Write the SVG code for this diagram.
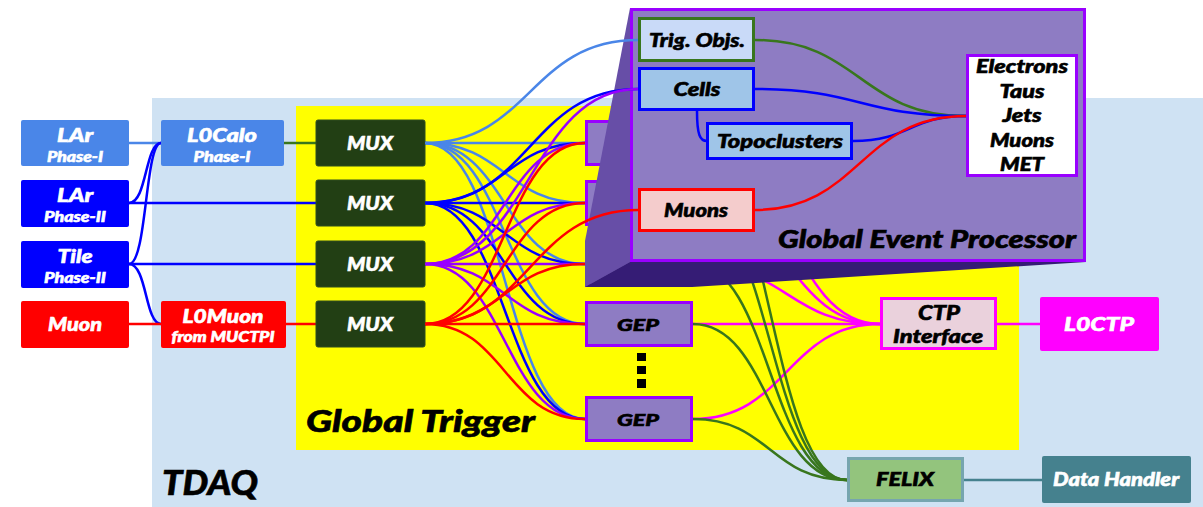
<svg xmlns="http://www.w3.org/2000/svg" width="1203" height="507" viewBox="0 0 1203 507">
<style>
text{font-family:"Lato Black",Lato,"Liberation Sans",sans-serif;font-weight:900;font-style:italic;stroke-width:0.6}
.w{fill:#fff;stroke:#fff}
.k{fill:#000;stroke:#000}
.c{text-anchor:middle}
.big{font-size:19px}
.sm{font-size:15px}
.ln{fill:none;stroke-width:2.5}
.lb{stroke:#4a86e8}
.bl{stroke:#0000ff}
.pu{stroke:#9900ff}
.rd{stroke:#ff0000}
.mg{stroke:#ff00ff}
.gr{stroke:#38761d}
.tl{stroke:#45818e}
.gep{fill:#8e7cc3;stroke:#9900ff;stroke-width:3}
.mux{fill:#223f14;stroke:#2f4f1f;stroke-width:1}
</style>
<rect x="0" y="0" width="1203" height="507" fill="#fff"/>
<g id="tdaq">
<rect x="152" y="98" width="1051" height="409" fill="#cfe2f3"/>
<text x="162" y="495" font-size="35" class="k" textLength="96" lengthAdjust="spacingAndGlyphs">TDAQ</text>
</g>
<g id="global-trigger">
<rect x="296" y="106" width="723" height="344" fill="#ffff00"/>
<text x="306" y="432" font-size="31" class="k" textLength="229" lengthAdjust="spacingAndGlyphs">Global Trigger</text>
</g>
<g id="connectors">
<path class="ln lb" d="M129,143 L161,143"/>
<path class="ln bl" d="M129,203 C147,203 145,143 161,143"/>
<path class="ln bl" d="M129,264 C147,264 145,143 161,143"/>
<path class="ln bl" d="M129,264 C147,264 145,324 161,324"/>
<path class="ln bl" d="M129,203 L316,203"/>
<path class="ln bl" d="M129,264 L316,264"/>
<path class="ln rd" d="M129,324 L161,324"/>
<path class="ln gr" d="M284,143 L316,143"/>
<path class="ln rd" d="M286,324 L316,324"/>
<path class="ln lb" d="M425,143 L585,143"/>
<path class="ln lb" d="M425,143 C505,143 505,203 585,203"/>
<path class="ln lb" d="M425,143 C505,143 505,264 585,264"/>
<path class="ln lb" d="M425,143 C505,143 505,324 585,324"/>
<path class="ln lb" d="M425,143 C505,143 505,419 585,419"/>
<path class="ln bl" d="M425,203 C505,203 505,143 585,143"/>
<path class="ln bl" d="M425,203 L585,203"/>
<path class="ln bl" d="M425,203 C505,203 505,264 585,264"/>
<path class="ln bl" d="M425,203 C505,203 505,324 585,324"/>
<path class="ln bl" d="M425,203 C505,203 505,419 585,419"/>
<path class="ln pu" d="M425,264 C505,264 505,143 585,143"/>
<path class="ln pu" d="M425,264 C505,264 505,203 585,203"/>
<path class="ln pu" d="M425,264 L585,264"/>
<path class="ln pu" d="M425,264 C505,264 505,324 585,324"/>
<path class="ln pu" d="M425,264 C505,264 505,419 585,419"/>
<path class="ln rd" d="M425,324 C505,324 505,143 585,143"/>
<path class="ln rd" d="M425,324 C505,324 505,203 585,203"/>
<path class="ln rd" d="M425,324 C505,324 505,264 585,264"/>
<path class="ln rd" d="M425,324 L585,324"/>
<path class="ln rd" d="M425,324 C505,324 505,419 585,419"/>
<path class="ln mg" d="M693,143 C787,143 787,324 880,324"/>
<path class="ln mg" d="M693,203 C787,203 787,324 880,324"/>
<path class="ln mg" d="M693,264 C787,264 787,324 880,324"/>
<path class="ln mg" d="M693,324 L880,324"/>
<path class="ln mg" d="M693,419 C787,419 787,324 880,324"/>
<path class="ln gr" d="M693,143 C770,143 770,480 847,480"/>
<path class="ln gr" d="M693,203 C770,203 770,480 847,480"/>
<path class="ln gr" d="M693,264 C770,264 770,480 847,480"/>
<path class="ln gr" d="M693,324 C770,324 770,480 847,480"/>
<path class="ln gr" d="M693,419 C770,419 770,480 847,480"/>
<path class="ln mg" d="M997,324 L1040,324"/>
<path class="ln tl" d="M964,480 L1042,480"/>
</g>
<g id="lar-phase1">
<rect x="21" y="120" width="108" height="46" rx="2" fill="#4a86e8"/>
<text x="75" y="142" class="w c big" font-size="20" textLength="36" lengthAdjust="spacingAndGlyphs">LAr</text>
<text x="75" y="162" class="w c sm" textLength="56" lengthAdjust="spacingAndGlyphs">Phase-I</text>
</g>
<g id="lar-phase2">
<rect x="21" y="180" width="108" height="47" rx="2" fill="#0000ff"/>
<text x="75" y="202" class="w c big" font-size="20" textLength="36" lengthAdjust="spacingAndGlyphs">LAr</text>
<text x="75" y="222" class="w c sm" textLength="62" lengthAdjust="spacingAndGlyphs">Phase-II</text>
</g>
<g id="tile-phase2">
<rect x="21" y="241" width="108" height="47" rx="2" fill="#0000ff"/>
<text x="75" y="263" class="w c big" font-size="20" textLength="35" lengthAdjust="spacingAndGlyphs">Tile</text>
<text x="75" y="283" class="w c sm" textLength="62" lengthAdjust="spacingAndGlyphs">Phase-II</text>
</g>
<g id="muon">
<rect x="21" y="301" width="108" height="47" rx="2" fill="#ff0000"/>
<text x="75" y="331" class="w c big" font-size="20" textLength="54" lengthAdjust="spacingAndGlyphs">Muon</text>
</g>
<g id="l0calo">
<rect x="161" y="120" width="123" height="46" rx="2" fill="#4a86e8"/>
<text x="222" y="142" class="w c big" font-size="20" textLength="70" lengthAdjust="spacingAndGlyphs">L0Calo</text>
<text x="222" y="162" class="w c sm" textLength="57" lengthAdjust="spacingAndGlyphs">Phase-I</text>
</g>
<g id="l0muon">
<rect x="161" y="301" width="125" height="47" rx="2" fill="#ff0000"/>
<text x="223" y="323" class="w c big" font-size="20" textLength="81" lengthAdjust="spacingAndGlyphs">L0Muon</text>
<text x="223" y="342" class="w c sm" textLength="103" lengthAdjust="spacingAndGlyphs">from MUCTPI</text>
</g>
<g id="mux1"><rect class="mux" x="316" y="120" width="109" height="46" rx="2"/><text x="370" y="150" class="w c big" textLength="46" lengthAdjust="spacingAndGlyphs">MUX</text></g>
<g id="mux2"><rect class="mux" x="316" y="180" width="109" height="46" rx="2"/><text x="370" y="210" class="w c big" textLength="46" lengthAdjust="spacingAndGlyphs">MUX</text></g>
<g id="mux3"><rect class="mux" x="316" y="241" width="109" height="46" rx="2"/><text x="370" y="271" class="w c big" textLength="46" lengthAdjust="spacingAndGlyphs">MUX</text></g>
<g id="mux4"><rect class="mux" x="316" y="301" width="109" height="46" rx="2"/><text x="370" y="331" class="w c big" textLength="46" lengthAdjust="spacingAndGlyphs">MUX</text></g>
<g id="gep1"><rect class="gep" x="586.5" y="121.5" width="105" height="43"/></g>
<g id="gep2"><rect class="gep" x="586.5" y="181.5" width="105" height="43"/></g>
<g id="gep3"><rect class="gep" x="586.5" y="242.5" width="105" height="43"/></g>
<g id="gep4"><rect class="gep" x="586.5" y="302.5" width="105" height="43"/><text x="638" y="331" class="k c" font-size="17" textLength="42" lengthAdjust="spacingAndGlyphs">GEP</text></g>
<g id="gep-dots">
<rect x="637" y="353" width="9" height="8" fill="#000"/>
<rect x="637" y="366" width="9" height="8" fill="#000"/>
<rect x="637" y="379" width="9" height="9" fill="#000"/>
</g>
<g id="gep5"><rect class="gep" x="586.5" y="397.5" width="105" height="43"/><text x="638" y="426" class="k c" font-size="17" textLength="42" lengthAdjust="spacingAndGlyphs">GEP</text></g>
<g id="global-event-processor">
<polygon points="630,8 585,241 585,287 630,262" fill="#674ea7"/>
<polygon points="585,287 630,262 1086,262 692,287" fill="#351c75"/>
<rect x="631.5" y="9.5" width="453" height="251" fill="#8e7cc3" stroke="#9900ff" stroke-width="3"/>
<text x="1076" y="248" font-size="25" class="k" text-anchor="end" textLength="298" lengthAdjust="spacingAndGlyphs">Global Event Processor</text>
</g>
<g id="connectors-gep">
<path class="ln lb" stroke-width="3" d="M425,143 C530,143 530,40 638,40"/>
<path class="ln bl" d="M425,203 C530,203 530,89 638,89"/>
<path class="ln pu" d="M425,264 C530,264 530,89 638,89"/>
<path class="ln rd" d="M425,324 C530,324 530,210 638,210"/>
<path class="ln gr" d="M755,40 C860,40 860,116 966,116"/>
<path class="ln bl" d="M755,89 C860,89 860,116 966,116"/>
<path class="ln bl" d="M853,141 C910,141 910,116 966,116"/>
<path class="ln rd" d="M755,210 C860,210 860,116 966,116"/>
<path class="ln bl" d="M697,111 C697,135 700,141 707,141"/>
</g>
<g id="trig-objs">
<rect x="639.5" y="18.5" width="114" height="42" fill="#c9daf8" stroke="#38761d" stroke-width="3"/>
<text x="697" y="47" class="k c big" textLength="96" lengthAdjust="spacingAndGlyphs">Trig. Objs.</text>
</g>
<g id="cells">
<rect x="639.5" y="68.5" width="114" height="41" fill="#9fc5e8" stroke="#0000ff" stroke-width="3"/>
<text x="697" y="96" class="k c big" textLength="47" lengthAdjust="spacingAndGlyphs">Cells</text>
</g>
<g id="topoclusters">
<rect x="707.5" y="123.5" width="144" height="35" fill="#9fc5e8" stroke="#0000ff" stroke-width="3"/>
<text x="780" y="148" class="k c big" textLength="126" lengthAdjust="spacingAndGlyphs">Topoclusters</text>
</g>
<g id="muons">
<rect x="639.5" y="189.5" width="114" height="41" fill="#f4cccc" stroke="#ff0000" stroke-width="3"/>
<text x="696" y="217" class="k c big" textLength="64" lengthAdjust="spacingAndGlyphs">Muons</text>
</g>
<g id="objects">
<rect x="967.5" y="55.5" width="109" height="120" fill="#fff" stroke="#9900ff" stroke-width="3"/>
<text x="1022" y="73" class="k c big" textLength="92" lengthAdjust="spacingAndGlyphs">Electrons</text>
<text x="1022" y="98" class="k c big" textLength="45" lengthAdjust="spacingAndGlyphs">Taus</text>
<text x="1022" y="122" class="k c big" textLength="39" lengthAdjust="spacingAndGlyphs">Jets</text>
<text x="1022" y="147" class="k c big" textLength="64" lengthAdjust="spacingAndGlyphs">Muons</text>
<text x="1022" y="171" class="k c big" textLength="44" lengthAdjust="spacingAndGlyphs">MET</text>
</g>
<g id="ctp-interface">
<rect x="881.5" y="298.5" width="114" height="50" fill="#ead1dc" stroke="#ff00ff" stroke-width="3"/>
<text x="939" y="320" class="k c" font-size="20" textLength="42" lengthAdjust="spacingAndGlyphs">CTP</text>
<text x="938" y="343" class="k c" font-size="19" textLength="90" lengthAdjust="spacingAndGlyphs">Interface</text>
</g>
<g id="l0ctp">
<rect x="1040" y="297" width="119" height="54" rx="2" fill="#ff00ff"/>
<text x="1099" y="331" class="w c big" font-size="20" textLength="70" lengthAdjust="spacingAndGlyphs">L0CTP</text>
</g>
<g id="felix">
<rect x="848.5" y="458.5" width="114" height="42" fill="#93c47d" stroke="#76a5af" stroke-width="3"/>
<text x="905" y="486" class="k c big" textLength="58" lengthAdjust="spacingAndGlyphs">FELIX</text>
</g>
<g id="data-handler">
<rect x="1042" y="456" width="149" height="47" rx="2" fill="#45818e"/>
<text x="1116" y="486" class="w c big" textLength="126" lengthAdjust="spacingAndGlyphs">Data Handler</text>
</g>
</svg>
